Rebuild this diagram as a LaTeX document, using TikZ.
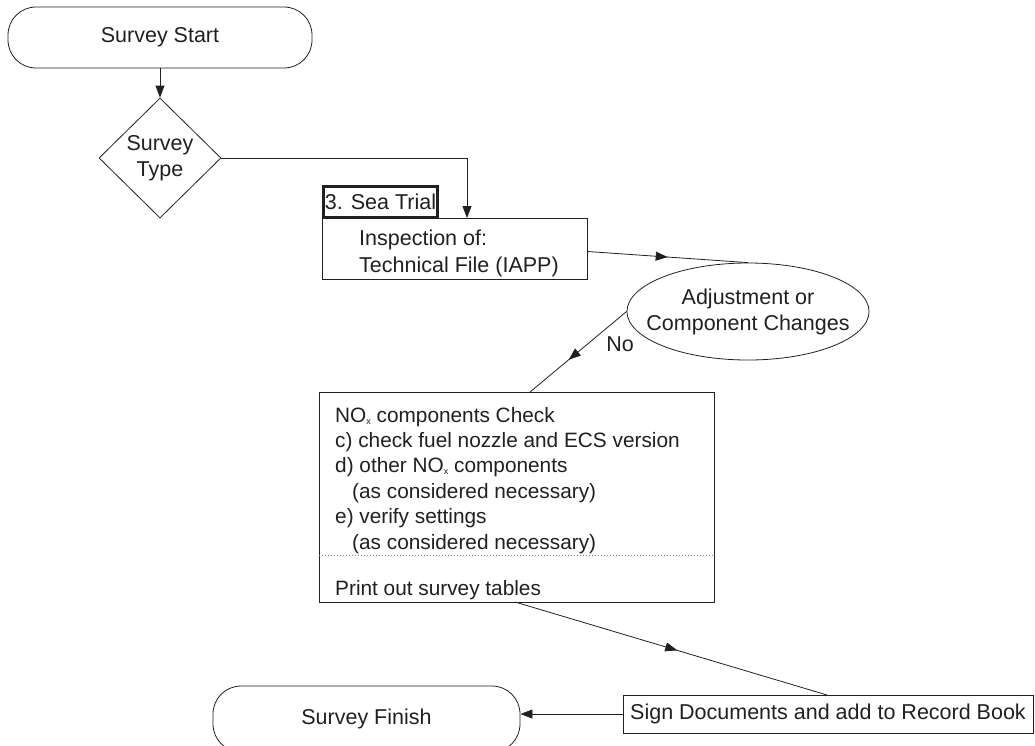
\documentclass[tikz,border=0pt]{standalone}
\usepackage{fontspec}
\setmainfont{Liberation Sans}
\usetikzlibrary{shapes.geometric,arrows.meta,decorations.markings}
\definecolor{ink}{HTML}{231F20}
\newcommand{\subx}{\raisebox{-1.5pt}{\fontsize{9}{9}\selectfont x}}
\tikzset{
  base/.style={draw=ink, line width=0.8pt, text=ink, font=\fontsize{21.5}{26}\selectfont},
  term/.style={base, rectangle, rounded corners=28pt, minimum width=304pt, minimum height=61pt, inner sep=0pt},
  box/.style={base, rectangle, inner sep=0pt},
  txt/.style={text=ink, font=\fontsize{21.5}{26}\selectfont, inner sep=0pt},
  noxtxt/.style={txt, font=\fontsize{20.8}{25}\selectfont, anchor=base west},
  con/.style={draw=ink, line width=0.8pt},
  arr/.style={con, -{Triangle[length=12pt,width=9pt]}},
  midarr/.style={con, postaction={decorate}, decoration={markings, mark=at position #1 with {\arrow{Triangle[length=12pt,width=9pt]}}}},
}
\begin{document}
\begin{tikzpicture}[x=1pt,y=-1pt]
\useasboundingbox (0,0) rectangle (1035,745);
% nodes
\node[term] (start) at (160,37.5) {Survey Start};
\node[base, diamond, minimum width=122pt, minimum height=120pt, inner sep=0pt, align=center] (type) at (160,158) {Survey\\Type};
\node[box, minimum width=265pt, minimum height=61pt] (insp) at (454.5,248.5) {};
\node[txt, anchor=base west] (insp1) at (359,245.5) {Inspection of:};
\node[txt, anchor=base west] (insp2) at (359,272.5) {Technical File (IAPP)};
\node[box, fill=white, line width=3pt, minimum width=114pt, minimum height=31pt] (sea) at (380.5,202) {3. Sea Trial};
\node[base, ellipse, minimum width=242pt, minimum height=97pt, inner xsep=-16pt, inner ysep=0pt, align=center] (adj) at (748,311.5) {Adjustment or\\Component Changes};
\node[txt] (no) at (620,344) {No};
\node[box, minimum width=395pt, minimum height=210pt] (nox) at (516.5,497) {};
\node[noxtxt] (l1) at (335,422.5) {NO\subx{} components Check};
\node[noxtxt] (l2) at (335,447.5) {c) check fuel nozzle and ECS version};
\node[noxtxt] (l3) at (335,472.5) {d) other NO\subx{} components};
\node[noxtxt] (l4) at (352,498) {(as considered necessary)};
\node[noxtxt] (l5) at (335,523.5) {e) verify settings};
\node[noxtxt] (l6) at (352,549) {(as considered necessary)};
\node[noxtxt] (l7) at (335,595) {Print out survey tables};
\node[box, minimum width=410pt, minimum height=38pt] (sign) at (828,714) {Sign Documents and add to Record Book};
\node[term, minimum width=307pt, minimum height=66pt] (finish) at (366.5,719) {Survey Finish};
% dotted separator
\draw[gray, line width=0.8pt, dash pattern=on 1.2pt off 1.8pt] ([yshift=-58pt]nox.west) -- ([yshift=-58pt]nox.east);
% connectors
\coordinate (inspin) at (467,218);
\coordinate (noxin) at (530,392);
\coordinate (noxout) at (515,602);
\coordinate (signin) at (827,695);
\draw[arr] (start.south) -- (type.north);
\draw[arr] (type.east) -| (inspin);
\draw[midarr=0.5] ([yshift=-3pt]insp.east) -- (adj.north);
\draw[midarr=0.6] (adj.west) -- (noxin);
\draw[midarr=0.52] (noxout) -- (signin);
\draw[arr] (sign.west) -- (finish.east |- sign.west);
\end{tikzpicture}
\end{document}
